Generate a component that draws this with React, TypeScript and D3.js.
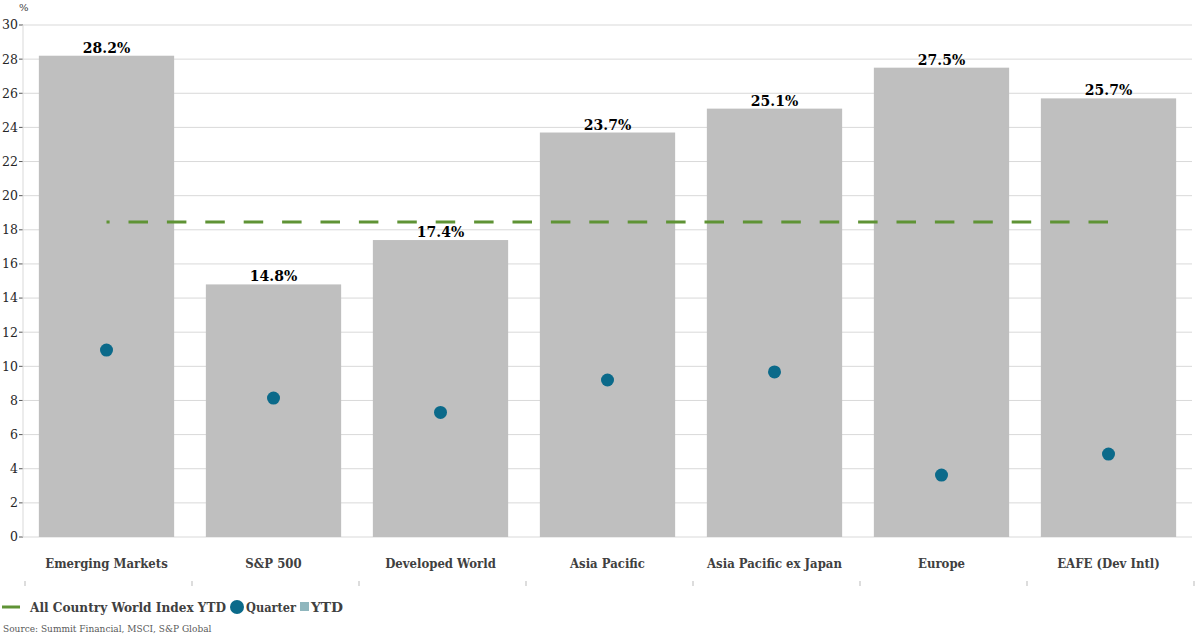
import React from "react";
import * as d3 from "d3";

const categories = ["Emerging Markets", "S&P 500", "Developed World", "Asia Pacific", "Asia Pacific ex Japan", "Europe", "EAFE (Dev Intl)"];
const ytdValues = [28.2, 14.8, 17.4, 23.7, 25.1, 27.5, 25.7];
const quarterValues = [10.95, 8.14, 7.3, 9.2, 9.67, 3.63, 4.86];
const acwiYtd = 18.45;
const yTicks = [0, 2, 4, 6, 8, 10, 12, 14, 16, 18, 20, 22, 24, 26, 28, 30];

const W = 1200, H = 635;
const left = 23, right = 1192, top = 25, bottom = 537;
const font = "DejaVu Serif";

export default function App() {
  const x = d3.scaleBand<string>().domain(categories).range([left, right]).paddingInner(0.19).paddingOuter(0.095);
  const y = d3.scaleLinear().domain([0, 30]).range([bottom, top]);
  const bw = x.bandwidth();
  const lineX1 = (x(categories[0]) as number) + bw / 2;
  const lineX2 = (x(categories[categories.length - 1]) as number) + bw / 2 + 1;
  const step = x.step();
  return (
    <svg width={W} height={H} style={{ position: "absolute", left: 0, top: 0, background: "#fff" }} fontFamily={font}>
      {yTicks.map(t => (
        <g key={t}>
          <line x1={left} x2={right} y1={y(t)} y2={y(t)} stroke="#d9d9d9" strokeWidth={1} />
          <line x1={left - 4} x2={left} y1={y(t)} y2={y(t)} stroke="#595959" strokeWidth={1} />
          <text x={18} y={y(t)} dy="0.35em" textAnchor="end" fontSize={12.5} fill="#262626">{t}</text>
        </g>
      ))}
      <line x1={left} x2={left} y1={top} y2={bottom} stroke="#d9d9d9" />
      <text x={19} y={11} fontSize={10} fill="#404040">%</text>
      {categories.map((c, i) => {
        const cx = (x(c) as number) + bw / 2;
        return (
          <g key={c}>
            <rect x={x(c)} y={y(ytdValues[i])} width={bw} height={y(0) - y(ytdValues[i])} fill="#bfbfbf" />
            <text x={cx} y={y(ytdValues[i]) - 3} textAnchor="middle" fontSize={14} fontWeight="bold" fill="#000">{ytdValues[i].toFixed(1)}%</text>
            <g transform={`translate(${cx},568) scale(0.9,1)`}>
              <text x={0} y={0} textAnchor="middle" fontSize={13} fontWeight="bold" fill="#404040">{c}</text>
            </g>
          </g>
        );
      })}
      <line x1={lineX1} x2={lineX2} y1={y(acwiYtd)} y2={y(acwiYtd)} stroke="#5f9335" strokeWidth={3} strokeDasharray="19.5 18.9" strokeDashoffset={16.4} />
      {categories.map((c, i) => (
        <circle key={c} cx={(x(c) as number) + bw / 2} cy={y(quarterValues[i])} r={6.5} fill="#0b6a8a" />
      ))}
      {d3.range(categories.length + 1).map(i => (
        <line key={i} x1={left + 2 + i * step} x2={left + 2 + i * step} y1={581} y2={586} stroke="#bbb" strokeWidth={1} />
      ))}
      <line x1={2} x2={20} y1={607} y2={607} stroke="#5f9335" strokeWidth={3} />
      <text x={30} y={612} fontSize={13} fontWeight="bold" fill="#404040" textLength={196} lengthAdjust="spacingAndGlyphs">All Country World Index YTD</text>
      <circle cx={237} cy={607} r={7} fill="#0b6a8a" />
      <text x={246} y={612} fontSize={13} fontWeight="bold" fill="#404040" textLength={50} lengthAdjust="spacingAndGlyphs">Quarter</text>
      <rect x={300} y={602} width={9} height={9} fill="#8fb6bd" />
      <text x={311} y={612} fontSize={13} fontWeight="bold" fill="#404040" textLength={32} lengthAdjust="spacingAndGlyphs">YTD</text>
      <text x={3} y={632} fontSize={9} fill="#595959">Source: Summit Financial, MSCI, S&amp;P Global</text>
    </svg>
  );
}
